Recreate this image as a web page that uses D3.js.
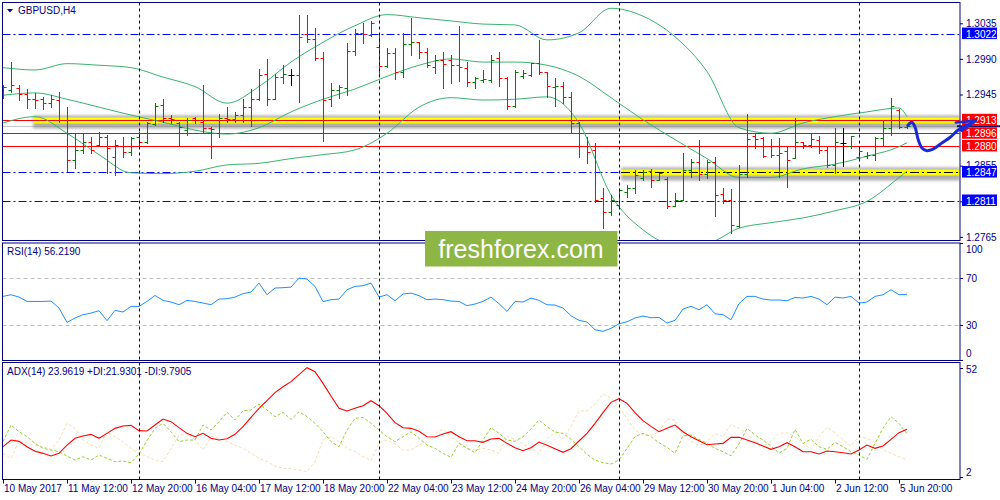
<!DOCTYPE html>
<html><head><meta charset="utf-8">
<script src="https://cdn.jsdelivr.net/npm/d3@7"></script>
<style>
body{margin:0;background:#fff;overflow:hidden;}
svg text{font-family:"Liberation Sans",Arial,sans-serif;}
</style></head><body>
<svg id="c" width="1000" height="500"></svg>
<script>
// ---------------- DATA ----------------
const symbolTitle = "GBPUSD,H4";
const rsiTitle = "RSI(14) 56.2190";
const adxTitle = "ADX(14) 23.9619 +DI:21.9301 -DI:9.7905";
const watermark = "freshforex.com";

const timeLabels = ["10 May 2017","11 May 12:00","12 May 20:00","16 May 04:00","17 May 12:00","18 May 20:00","22 May 04:00","23 May 12:00","24 May 20:00","26 May 04:00","29 May 12:00","30 May 20:00","1 Jun 04:00","2 Jun 12:00","5 Jun 20:00"];
const timeLabelBars = [0,8,16,24,32,40,48,56,64,72,80,88,96,104,112];
const separatorBars = [17,47,77,107];

const open = [1.2942,1.2951,1.2953,1.2946,1.2939,1.2939,1.2934,1.2938,1.2913,1.2862,
1.2875,1.2885,1.2881,1.2891,1.2866,1.2880,1.2872,1.2891,1.2885,1.2908,
1.2932,1.2915,1.2909,1.2900,1.2915,1.2910,1.2903,1.2896,1.2915,1.2914,
1.2919,1.2929,1.2939,1.2971,1.2939,1.2967,1.2970,1.2970,1.3022,1.3015,
1.2991,1.2939,1.2951,1.2953,1.3000,1.3023,1.3020,1.3005,1.2981,1.2998,
1.2974,1.3009,1.3011,1.2999,1.2980,1.2989,1.2989,1.2982,1.2979,1.2961,
1.2963,1.2963,1.2991,1.2966,1.2931,1.2968,1.2970,1.2985,1.2974,1.2954,
1.2956,1.2942,1.2909,1.2880,1.2875,1.2814,1.2797,1.2805,1.2822,1.2827,
1.2840,1.2848,1.2837,1.2838,1.2804,1.2812,1.2850,1.2860,1.2845,1.2860,
1.2819,1.2812,1.2779,1.2845,1.2893,1.2890,1.2880,1.2869,1.2874,1.2865,
1.2885,1.2881,1.2888,1.2875,1.2856,1.2884,1.2880,1.2866,1.2867,1.2869,
1.2890,1.2903,1.2926,1.2904];
const high = [1.2957,1.2986,1.2957,1.2952,1.2947,1.2942,1.2944,1.2948,1.2929,1.2896,
1.2896,1.2891,1.2898,1.2894,1.2888,1.2891,1.2891,1.2898,1.2910,1.2934,
1.2939,1.2919,1.2910,1.2915,1.2917,1.2957,1.2904,1.2920,1.2929,1.2923,
1.2939,1.2952,1.2977,1.2990,1.2971,1.2982,1.2977,1.3046,1.3046,1.3029,
1.2999,1.2960,1.2957,1.3010,1.3028,1.3035,1.3038,1.3023,1.3004,1.3004,
1.3023,1.3042,1.3011,1.3004,1.2995,1.2999,1.2995,1.3032,1.2986,1.2967,
1.2976,1.2995,1.2999,1.2967,1.2976,1.2976,1.2985,1.3014,1.2974,1.2966,
1.2961,1.2948,1.2910,1.2891,1.2884,1.2827,1.2818,1.2826,1.2831,1.2850,
1.2850,1.2851,1.2846,1.2841,1.2821,1.2871,1.2864,1.2888,1.2862,1.2866,
1.2827,1.2826,1.2856,1.2920,1.2896,1.2891,1.2889,1.2890,1.2879,1.2915,
1.2885,1.2895,1.2893,1.2879,1.2903,1.2903,1.2893,1.2880,1.2872,1.2891,
1.2913,1.2941,1.2927,1.2908];
const low = [1.2941,1.2948,1.2938,1.2928,1.2928,1.2927,1.2929,1.2910,1.2848,1.2852,
1.2871,1.2871,1.2881,1.2846,1.2843,1.2866,1.2869,1.2877,1.2884,1.2907,
1.2910,1.2909,1.2881,1.2894,1.2909,1.2898,1.2865,1.2891,1.2910,1.2910,
1.2910,1.2905,1.2938,1.2932,1.2939,1.2960,1.2957,1.2936,1.3011,1.2989,
1.2886,1.2931,1.2941,1.2944,1.2995,1.3010,1.3019,1.2971,1.2980,1.2965,
1.2967,1.2995,1.2991,1.2980,1.2972,1.2953,1.2960,1.2962,1.2956,1.2953,
1.2961,1.2961,1.2956,1.2927,1.2929,1.2966,1.2968,1.2971,1.2942,1.2931,
1.2934,1.2898,1.2866,1.2859,1.2809,1.2776,1.2793,1.2803,1.2816,1.2821,
1.2837,1.2828,1.2837,1.2802,1.2804,1.2812,1.2841,1.2837,1.2840,1.2792,
1.2808,1.2770,1.2778,1.2841,1.2877,1.2866,1.2866,1.2841,1.2828,1.2865,
1.2877,1.2879,1.2871,1.2853,1.2846,1.2855,1.2877,1.2864,1.2865,1.2862,
1.2881,1.2894,1.2903,1.2903];
const close = [1.2955,1.2957,1.2946,1.2939,1.2938,1.2934,1.2939,1.2913,1.2862,1.2875,
1.2885,1.2875,1.2891,1.2877,1.2881,1.2872,1.2890,1.2885,1.2909,1.2931,
1.2915,1.2914,1.2904,1.2913,1.2913,1.2903,1.2901,1.2915,1.2914,1.2919,
1.2929,1.2939,1.2970,1.2939,1.2967,1.2971,1.2970,1.3018,1.3015,1.2991,
1.2938,1.2951,1.2955,1.3000,1.3023,1.3022,1.3035,1.2981,1.2998,1.2974,
1.3009,1.3011,1.2999,1.2982,1.2989,1.2984,1.2982,1.2980,1.2961,1.2966,
1.2965,1.2989,1.2966,1.2931,1.2974,1.2972,1.2985,1.2974,1.2956,1.2956,
1.2942,1.2909,1.2880,1.2872,1.2812,1.2797,1.2812,1.2824,1.2827,1.2843,
1.2847,1.2837,1.2846,1.2804,1.2812,1.2850,1.2860,1.2845,1.2860,1.2818,
1.2812,1.2780,1.2845,1.2889,1.2889,1.2867,1.2869,1.2871,1.2862,1.2885,
1.2881,1.2889,1.2875,1.2856,1.2885,1.2884,1.2893,1.2874,1.2869,1.2890,
1.2903,1.2931,1.2904,1.2905];

// Bollinger bands, read at every 4th bar
const bandBars = [0,4,8,12,16,20,24,28,32,36,40,44,48,52,56,60,64,68,72,76,80,84,88,92,96,100,104,108,112,113];
const bandUpper = [1.2979,1.2976,1.2984,1.2982,1.2979,1.2967,1.2955,1.2934,1.2955,1.2986,1.3011,1.3032,1.3046,1.3042,1.3038,1.3034,1.3033,1.3014,1.3023,1.3054,1.3044,1.3018,1.2974,1.2903,1.2896,1.2909,1.2917,1.2923,1.2928,1.2917];
const bandMiddle = [1.2944,1.2947,1.2939,1.2929,1.2919,1.2910,1.2900,1.2895,1.2903,1.2923,1.2939,1.2952,1.2968,1.2982,1.2990,1.2986,1.2986,1.2982,1.2968,1.2941,1.2913,1.2888,1.2864,1.2840,1.2840,1.2851,1.2857,1.2867,1.2879,1.2884];
const bandLower = [1.2909,1.2917,1.2896,1.2869,1.2846,1.2845,1.2848,1.2856,1.2858,1.2864,1.2869,1.2875,1.2896,1.2929,1.2941,1.2938,1.2939,1.2942,1.2909,1.2818,1.2774,1.2755,1.2757,1.2776,1.2783,1.2789,1.2798,1.2810,1.2840,1.2848];

const rsi = [54.4,55.8,53.8,50.1,50.1,50.1,50.4,44.5,32.3,36.0,
38.8,40.2,42.2,33.7,42.5,41.1,45.9,45.9,50.1,55.2,
51.0,49.6,47.3,51.0,50.1,48.7,47.3,52.1,52.4,53.8,
56.7,58.1,65.7,55.8,61.5,61.8,62.3,70.0,69.1,62.9,
49.9,51.6,52.1,60.1,62.9,63.5,65.7,53.8,55.8,50.7,
56.4,57.2,55.0,51.6,52.1,51.6,50.4,50.1,46.5,47.9,
50.1,53.8,48.2,41.6,50.1,49.6,53.0,51.0,47.3,47.0,
44.5,37.9,34.0,32.6,26.0,24.6,27.2,31.1,32.8,36.0,
37.7,36.2,36.5,31.7,34.0,43.6,45.9,43.0,47.3,39.6,
38.8,34.5,48.2,54.4,54.4,52.1,51.3,51.3,50.7,53.5,
53.0,54.4,52.1,47.3,53.8,53.0,54.4,48.7,49.6,54.4,
55.8,60.1,55.8,56.2];
const rsiLevels = [70,30];
const rsiTicks = [100,70,30,0];

const adx = [15.96,19.03,18.41,15.96,13.81,12.89,11.66,12.89,16.72,19.80,
20.87,21.64,19.80,22.10,24.40,25.47,25.78,23.33,23.17,25.93,
28.70,27.47,24.71,22.10,20.56,22.10,19.80,19.03,19.64,21.64,
25.17,29.46,33.61,37.14,40.82,43.58,45.89,49.11,52.33,50.49,
45.12,39.29,33.61,32.38,33.61,34.84,37.14,34.84,31.31,27.01,
24.71,24.40,23.02,20.56,20.41,21.79,22.86,20.56,18.72,18.72,
17.95,19.49,19.80,17.49,15.50,14.12,15.50,18.11,16.57,15.04,
13.35,15.04,18.57,22.10,26.70,31.61,36.37,38.06,35.91,31.61,
27.93,25.32,22.86,24.40,25.93,22.86,20.56,18.72,16.88,17.19,
17.49,20.26,20.26,19.03,17.80,16.26,14.73,15.96,17.80,15.96,
13.65,13.65,12.58,13.96,13.65,13.19,12.58,14.42,16.72,15.19,
16.26,19.34,22.40,23.96];
const plusDI = [18.26,25.93,22.86,20.56,17.49,15.19,14.42,13.65,11.66,9.82,
11.35,9.82,12.12,10.59,9.05,9.36,8.59,12.58,18.72,24.40,
26.70,22.86,18.26,19.03,19.03,25.93,23.63,27.47,31.77,28.24,
32.53,32.84,35.60,32.84,29.77,31.77,28.54,32.07,29.77,26.70,
22.86,18.26,15.96,23.63,29.00,29.46,26.70,23.63,20.56,18.26,
20.56,22.86,19.80,16.72,15.19,12.89,11.05,17.49,15.19,13.19,
19.03,24.71,22.10,19.03,18.41,20.56,24.09,28.24,25.17,22.71,
22.10,19.34,15.96,12.43,9.82,8.59,7.98,9.82,15.19,20.56,
22.10,20.56,17.80,15.65,12.89,21.02,21.33,19.34,17.49,15.19,
13.65,11.81,17.19,24.40,21.33,19.03,16.26,12.89,15.19,23.94,
17.49,19.34,15.96,14.73,17.95,15.96,13.65,12.12,10.13,17.49,
24.40,29.77,26.70,21.93];
const minusDI = [12.89,10.59,18.72,17.49,16.72,15.96,14.73,19.03,26.70,24.40,
19.03,16.72,15.19,22.86,20.56,18.26,15.19,12.89,11.35,9.82,
9.05,15.19,21.33,22.10,19.03,14.42,20.56,19.80,18.26,16.72,
15.19,12.89,10.59,9.05,7.06,5.98,5.83,5.22,4.45,9.05,
19.03,20.56,18.26,15.19,13.65,11.35,9.51,17.49,19.03,17.19,
14.42,14.42,16.72,18.26,22.10,23.94,20.56,17.80,15.19,14.42,
15.19,14.42,12.89,20.56,19.49,17.03,15.50,12.58,19.80,22.56,
19.49,25.47,32.53,32.38,35.60,40.21,38.37,34.38,29.00,23.63,
21.33,21.33,22.71,28.70,28.24,21.33,18.57,16.42,18.26,22.10,
20.56,26.24,24.40,22.10,18.26,15.96,18.26,22.10,22.40,20.56,
17.49,14.73,20.56,24.86,22.40,19.03,16.26,20.56,19.80,17.80,
14.42,12.89,11.35,9.79];
const adxTicks = [52,2];

const priceTicks = [1.2765,1.2810,1.2855,1.2900,1.2945,1.2990,1.3035];
const priceTickLabels = ["1.2765","","1.2855","","1.2945","1.2990","1.3035"]; // 1.2810 / 1.2900 hidden behind level boxes
const blueLevels = [1.3022,1.2847,1.2811];
const redLevels = [1.2913,1.2896,1.2880];
const yellowLevels = [1.2913,1.2847];
const yellowFromBar = [3.75,77.25];
const bidPrice = 1.2905;

// hand-drawn forecast arrow (bar index, price)
const arrowBars = [113.1,113.6,114.0,114.4,114.9,115.5,116.25,117.4,118.4,119.4,120.5,121.6];
const arrowPrices = [1.2906,1.2910,1.2904,1.2888,1.2877,1.2874,1.2876,1.2884,1.2891,1.2900,1.2906,1.2912];

// ---------------- DRAW ----------------
const svg = d3.select('#c');
const NAVY = '#00007f';
const L = 2.5, R = 960;
const MT = 2.5, MB = 240.5, RT = 243, RB = 360.5, AT = 362.5, AB = 479.5;

const x = d3.scaleLinear().domain([0,113]).range([3,907]);
const y = d3.scaleLinear().domain([1.2765,1.3035]).range([236.9,23.3]);
const yR = d3.scaleLinear().domain([0,100]).range([360.3,242.8]);
const yA = d3.scaleLinear().domain([2,52]).range([477,368.4]);
const px = v => Math.round(v) + 0.5;

const defs = svg.append('defs');
[['clipM',MT,MB],['clipR',RT,RB],['clipA',AT,AB]].forEach(([id,t,b])=>{
  defs.append('clipPath').attr('id',id).append('rect').attr('x',L+0.5).attr('y',t+0.5).attr('width',R-L-1).attr('height',b-t-1);
});
const blur = defs.append('filter').attr('id','blur').attr('x','-5%').attr('y','-100%').attr('width','110%').attr('height','300%');
blur.append('feGaussianBlur').attr('stdDeviation',1.6);

svg.append('rect').attr('width',1000).attr('height',500).attr('fill','#fff');

// ---- main panel ----
const gm = svg.append('g').attr('clip-path','url(#clipM)');

// bid line
gm.append('line').attr('x1',L).attr('x2',R).attr('y1',px(y(bidPrice))).attr('y2',px(y(bidPrice)))
  .attr('stroke','#c8c8c8').attr('stroke-width',1);

// blue dash-dot levels
gm.selectAll('.bl').data(blueLevels).join('line')
  .attr('x1',L).attr('x2',R).attr('y1',d=>px(y(d))).attr('y2',d=>px(y(d)))
  .attr('stroke','#0000ff').attr('stroke-width',1).attr('stroke-dasharray','8,3,2,3');

// yellow highlighted levels
yellowLevels.forEach((p,i)=>{
  const yy = px(y(p)); const x0 = x(yellowFromBar[i]);
  gm.append('rect').attr('x',x0).attr('y',yy-5).attr('width',R-x0).attr('height',13)
    .attr('fill','#7a7a7a').attr('opacity',0.6).attr('filter','url(#blur)');
  gm.append('rect').attr('x',x0).attr('y',yy-3).attr('width',R-x0).attr('height',6).attr('fill','#ffff00');
  if(i===1){
    gm.append('line').attr('x1',x0).attr('x2',R).attr('y1',yy).attr('y2',yy)
      .attr('stroke','#000').attr('stroke-width',1.2).attr('stroke-dasharray','9,3,2,3');
  }
});

// red levels
gm.selectAll('.rl').data(redLevels).join('line')
  .attr('x1',L).attr('x2',R).attr('y1',d=>px(y(d))).attr('y2',d=>px(y(d)))
  .attr('stroke','#ff0000').attr('stroke-width',1);

// Bollinger bands
const bandLine = arr => d3.line().x((d,i)=>x(bandBars[i])).y(d=>y(d)).curve(d3.curveMonotoneX)(arr);
[bandUpper,bandMiddle,bandLower].forEach(arr=>{
  gm.append('path').attr('d',bandLine(arr)).attr('fill','none').attr('stroke','#3cb371').attr('stroke-width',1);
});

// OHLC bars
open.forEach((o,i)=>{
  const c = close[i];
  const col = c>o ? '#008000' : (c<o ? '#ff0000' : '#000000');
  const xc = px(x(i));
  const g = gm.append('g').attr('stroke',col).attr('stroke-width',1);
  g.append('line').attr('x1',xc).attr('x2',xc).attr('y1',Math.round(y(high[i]))).attr('y2',Math.round(y(low[i]))+1);
  g.append('line').attr('x1',xc-3).attr('x2',xc).attr('y1',px(y(o))).attr('y2',px(y(o)));
  g.append('line').attr('x1',xc).attr('x2',xc+3).attr('y1',px(y(c))).attr('y2',px(y(c)));
});

// ---- RSI panel ----
const gr = svg.append('g').attr('clip-path','url(#clipR)');
gr.selectAll('.lv').data(rsiLevels).join('line')
  .attr('x1',L).attr('x2',R).attr('y1',d=>px(yR(d))).attr('y2',d=>px(yR(d)))
  .attr('stroke','#c0c0c0').attr('stroke-dasharray','4,3');
gr.append('path').attr('d',d3.line().x((d,i)=>x(i)).y(d=>yR(d))(rsi))
  .attr('fill','none').attr('stroke','#1e90ff').attr('stroke-width',1);

// ---- ADX panel ----
const ga = svg.append('g').attr('clip-path','url(#clipA)');
const aLine = d3.line().x((d,i)=>x(i)).y(d=>yA(d));
ga.append('path').attr('d',aLine(minusDI)).attr('fill','none').attr('stroke','#f5deb3').attr('stroke-width',1).attr('stroke-dasharray','3,2');
ga.append('path').attr('d',aLine(plusDI)).attr('fill','none').attr('stroke','#9acd32').attr('stroke-width',1).attr('stroke-dasharray','3,2');
ga.append('path').attr('d',aLine(adx)).attr('fill','none').attr('stroke','#ff0000').attr('stroke-width',1.1);

// separators
svg.append('g').selectAll('line').data(separatorBars).join('line')
  .attr('x1',d=>px(x(d))).attr('x2',d=>px(x(d))).attr('y1',MT).attr('y2',AB)
  .attr('stroke',NAVY).attr('stroke-width',1).attr('stroke-dasharray','3,3');

// frames
[[MT,MB],[RT,RB],[AT,AB]].forEach(([t,b])=>{
  svg.append('rect').attr('x',L).attr('y',t).attr('width',R-L).attr('height',b-t)
    .attr('fill','none').attr('stroke',NAVY).attr('stroke-width',1);
});

// price axis
const ax = svg.append('g').attr('transform',`translate(${R},0)`)
  .call(d3.axisRight(y).tickValues(priceTicks).tickSize(3).tickPadding(3).tickFormat((d,i)=>priceTickLabels[i]));
ax.select('.domain').remove();
ax.selectAll('line').attr('stroke',NAVY);
ax.selectAll('text').attr('fill',NAVY).attr('font-size',10).attr('font-family','"Liberation Sans",Arial,sans-serif');

// bid marker behind labels
svg.append('line').attr('x1',957).attr('x2',1000).attr('y1',y(bidPrice)).attr('y2',y(bidPrice)).attr('stroke','#101070').attr('stroke-width',2);

// level boxes
const boxes = blueLevels.map(p=>({p,c:'#0000ff'})).concat(redLevels.map(p=>({p,c:'#ff0000'})));
boxes.forEach(b=>{
  const yy = y(b.p);
  svg.append('rect').attr('x',962).attr('y',yy-6).attr('width',35).attr('height',11.5).attr('fill',b.c);
  svg.append('text').attr('x',966).attr('y',yy+4).attr('fill','#fff').attr('font-size',10).text(d3.format('.4f')(b.p));
});

// RSI axis
rsiTicks.forEach(v=>{
  const yy = Math.max(249, Math.min(353, yR(v)));
  svg.append('line').attr('x1',R).attr('x2',R+3).attr('y1',px(yR(v))).attr('y2',px(yR(v))).attr('stroke',NAVY);
  svg.append('text').attr('x',966).attr('y',yy+3.5).attr('fill',NAVY).attr('font-size',10).text(v);
});
adxTicks.forEach(v=>{
  const yy = Math.max(369, Math.min(472, yA(v)));
  svg.append('line').attr('x1',R).attr('x2',R+3).attr('y1',px(yA(v))).attr('y2',px(yA(v))).attr('stroke',NAVY);
  svg.append('text').attr('x',966).attr('y',yy+3.5).attr('fill',NAVY).attr('font-size',10).text(v);
});

// time axis
timeLabelBars.forEach((b,i)=>{
  const xc = px(x(b));
  svg.append('line').attr('x1',xc).attr('x2',xc).attr('y1',AB).attr('y2',AB+4).attr('stroke',NAVY);
  svg.append('text').attr('x',xc+0.5).attr('y',492).attr('fill',NAVY).attr('font-size',10).text(timeLabels[i]);
});

// titles
svg.append('path').attr('d','M7,9 L13,9 L10,12.5 Z').attr('fill',NAVY);
svg.append('text').attr('x',18).attr('y',14).attr('fill',NAVY).attr('font-size',10).text(symbolTitle);
svg.append('text').attr('x',7).attr('y',255).attr('fill',NAVY).attr('font-size',10).text(rsiTitle);
svg.append('text').attr('x',7).attr('y',375).attr('fill',NAVY).attr('font-size',10).text(adxTitle);

// forecast arrow
const arrowPts = arrowBars.map((b,i)=>[x(b),y(arrowPrices[i])]);
svg.append('path').attr('d',d3.line().curve(d3.curveCatmullRom)(arrowPts))
  .attr('fill','none').attr('stroke','#1a2ad4').attr('stroke-width',3).attr('stroke-linecap','round').attr('stroke-linejoin','round');
const tip = arrowPts[arrowPts.length-1];
svg.append('path').attr('d',`M${tip[0]-20},${tip[1]+2}L${tip[0]},${tip[1]}L${tip[0]-14},${tip[1]+10}`)
  .attr('fill','none').attr('stroke','#1a2ad4').attr('stroke-width',2.5).attr('stroke-linecap','round').attr('stroke-linejoin','round');

// watermark
svg.append('rect').attr('x',425).attr('y',231).attr('width',192.5).attr('height',35.5).attr('fill','#8db645');
svg.append('text').attr('x',521).attr('y',257.5).attr('text-anchor','middle').attr('fill','#fff')
  .attr('font-family','"Open Sans",sans-serif').attr('font-size',25).text(watermark);
</script>
</body></html>
